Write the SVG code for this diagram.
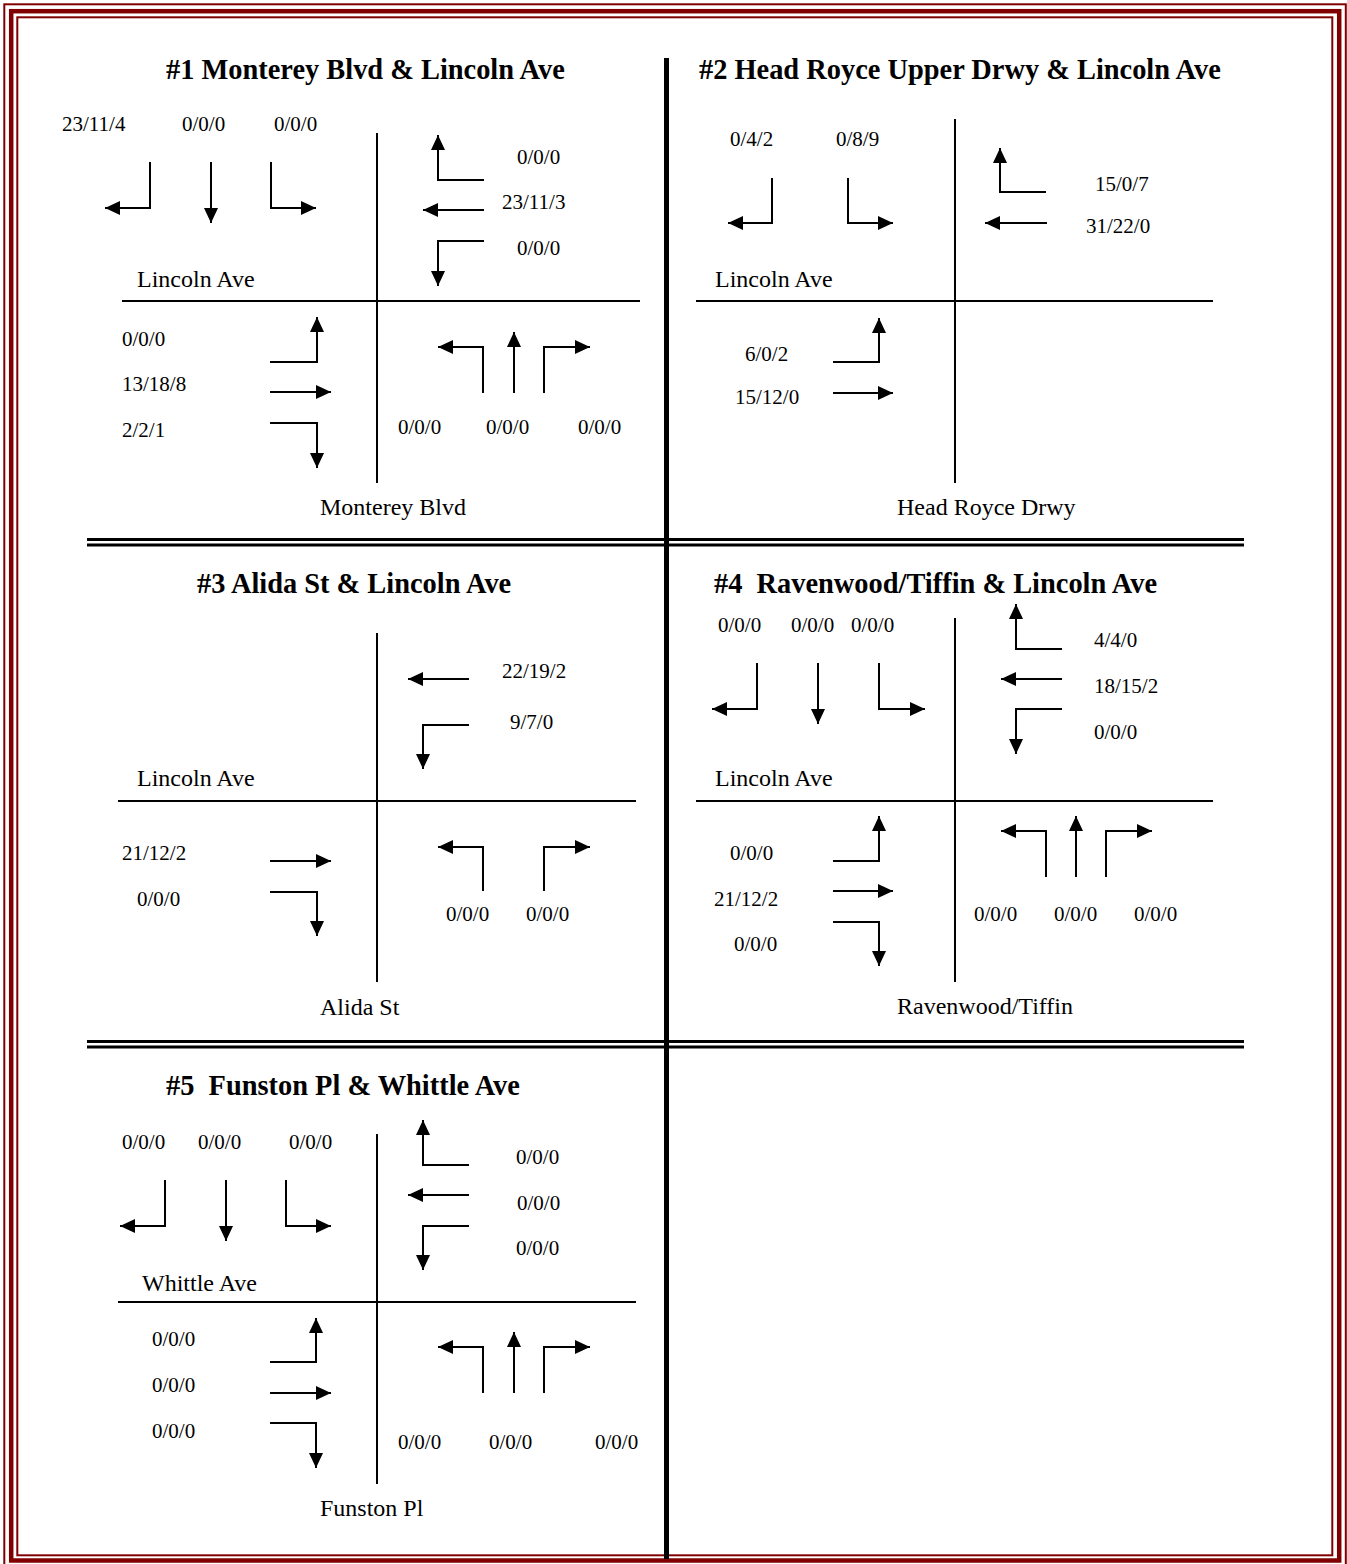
<svg xmlns="http://www.w3.org/2000/svg" width="1347" height="1564" viewBox="0 0 1347 1564">
<style>
.t{font-family:"Liberation Serif","Times New Roman",serif;font-size:28.4px;font-weight:bold;fill:#000}
.s{font-family:"Liberation Serif","Times New Roman",serif;font-size:24px;fill:#000}
.n{font-family:"Liberation Serif","Times New Roman",serif;font-size:21px;fill:#000}
.a{fill:none;stroke:#000;stroke-width:2;marker-end:url(#ah)}
.x{fill:none;stroke:#000;stroke-width:2}
.b{fill:none;stroke:#800000}
</style>
<defs>
<marker id="ah" markerUnits="userSpaceOnUse" markerWidth="16" markerHeight="14" refX="15" refY="7" orient="auto">
<path d="M0,0 L15,7 L0,14 z" fill="#000"/>
</marker>
</defs>
<rect width="1347" height="1564" fill="#fff"/>
<g id="frame">
<rect class="b" x="4.3" y="4.3" width="1341.5" height="1570" stroke-width="2"/>
<rect class="b" x="11.2" y="11.2" width="1328" height="1549.3" stroke-width="4.5"/>
<rect class="b" x="17.3" y="17.3" width="1315" height="1538" stroke-width="2"/>
</g>
<g id="dividers">
<line x1="666.5" y1="58" x2="666.5" y2="1559" stroke="#000" stroke-width="5"/>
<line x1="87" y1="539.5" x2="1244" y2="539.5" stroke="#000" stroke-width="3"/>
<line x1="87" y1="545" x2="1244" y2="545" stroke="#000" stroke-width="3"/>
<line x1="87" y1="1041.5" x2="1244" y2="1041.5" stroke="#000" stroke-width="3"/>
<line x1="87" y1="1047" x2="1244" y2="1047" stroke="#000" stroke-width="3"/>
</g>
<g id="int1">
<text class="t" x="166" y="79">#1 Monterey Blvd &amp; Lincoln Ave</text>
<text class="n" x="62" y="131">23/11/4</text>
<text class="n" x="182" y="131">0/0/0</text>
<text class="n" x="274" y="131">0/0/0</text>
<text class="n" x="517" y="164">0/0/0</text>
<text class="n" x="502" y="209">23/11/3</text>
<text class="n" x="517" y="255">0/0/0</text>
<text class="s" x="137" y="287">Lincoln Ave</text>
<text class="n" x="122" y="346">0/0/0</text>
<text class="n" x="122" y="391">13/18/8</text>
<text class="n" x="122" y="437">2/2/1</text>
<text class="n" x="398" y="434">0/0/0</text>
<text class="n" x="486" y="434">0/0/0</text>
<text class="n" x="578" y="434">0/0/0</text>
<text class="s" x="320" y="515">Monterey Blvd</text>
</g>
<g id="int2">
<text class="t" x="699" y="79">#2 Head Royce Upper Drwy &amp; Lincoln Ave</text>
<text class="n" x="730" y="146">0/4/2</text>
<text class="n" x="836" y="146">0/8/9</text>
<text class="n" x="1095" y="191">15/0/7</text>
<text class="n" x="1086" y="233">31/22/0</text>
<text class="s" x="715" y="287">Lincoln Ave</text>
<text class="n" x="745" y="361">6/0/2</text>
<text class="n" x="735" y="404">15/12/0</text>
<text class="s" x="897" y="515">Head Royce Drwy</text>
</g>
<g id="int3">
<text class="t" x="197" y="593">#3 Alida St &amp; Lincoln Ave</text>
<text class="n" x="502" y="678">22/19/2</text>
<text class="n" x="510" y="729">9/7/0</text>
<text class="s" x="137" y="786">Lincoln Ave</text>
<text class="n" x="122" y="860">21/12/2</text>
<text class="n" x="137" y="906">0/0/0</text>
<text class="n" x="446" y="921">0/0/0</text>
<text class="n" x="526" y="921">0/0/0</text>
<text class="s" x="320" y="1015">Alida St</text>
</g>
<g id="int4">
<text class="t" x="714" y="593" xml:space="preserve">#4  Ravenwood/Tiffin &amp; Lincoln Ave</text>
<text class="n" x="718" y="632">0/0/0</text>
<text class="n" x="791" y="632">0/0/0</text>
<text class="n" x="851" y="632">0/0/0</text>
<text class="n" x="1094" y="647">4/4/0</text>
<text class="n" x="1094" y="693">18/15/2</text>
<text class="n" x="1094" y="739">0/0/0</text>
<text class="s" x="715" y="786">Lincoln Ave</text>
<text class="n" x="730" y="860">0/0/0</text>
<text class="n" x="714" y="906">21/12/2</text>
<text class="n" x="734" y="951">0/0/0</text>
<text class="n" x="974" y="921">0/0/0</text>
<text class="n" x="1054" y="921">0/0/0</text>
<text class="n" x="1134" y="921">0/0/0</text>
<text class="s" x="897" y="1014">Ravenwood/Tiffin</text>
</g>
<g id="int5">
<text class="t" x="166" y="1095" xml:space="preserve">#5  Funston Pl &amp; Whittle Ave</text>
<text class="n" x="122" y="1149">0/0/0</text>
<text class="n" x="198" y="1149">0/0/0</text>
<text class="n" x="289" y="1149">0/0/0</text>
<text class="n" x="516" y="1164">0/0/0</text>
<text class="n" x="517" y="1210">0/0/0</text>
<text class="n" x="516" y="1255">0/0/0</text>
<text class="s" x="142" y="1291">Whittle Ave</text>
<text class="n" x="152" y="1346">0/0/0</text>
<text class="n" x="152" y="1392">0/0/0</text>
<text class="n" x="152" y="1438">0/0/0</text>
<text class="n" x="398" y="1449">0/0/0</text>
<text class="n" x="489" y="1449">0/0/0</text>
<text class="n" x="595" y="1449">0/0/0</text>
<text class="s" x="320" y="1516">Funston Pl</text>
</g>
<g id="connectors">
<path class="x" d="M377,133 V483 M122,301 H640"/>
<path class="a" d="M150,162 V208 H105"/>
<path class="a" d="M211,162 V223"/>
<path class="a" d="M271,162 V208 H316"/>
<path class="a" d="M484,180 H438 V135"/>
<path class="a" d="M484,210 H423"/>
<path class="a" d="M484,241 H438 V286"/>
<path class="a" d="M270,362 H317 V317"/>
<path class="a" d="M270,392 H331"/>
<path class="a" d="M270,423 H317 V468"/>
<path class="a" d="M483,393 V347 H438"/>
<path class="a" d="M514,393 V332"/>
<path class="a" d="M544,393 V347 H590"/>

<path class="x" d="M955,119 V483 M696,301 H1213"/>
<path class="a" d="M772,178 V223 H728"/>
<path class="a" d="M848,178 V223 H893"/>
<path class="a" d="M1046,192 H1000 V148"/>
<path class="a" d="M1047,223 H985"/>
<path class="a" d="M833,362 H879 V318"/>
<path class="a" d="M833,393 H893"/>

<path class="x" d="M377,633 V982 M118,801 H636"/>
<path class="a" d="M469,679 H408"/>
<path class="a" d="M469,725 H423 V769"/>
<path class="a" d="M270,861 H331"/>
<path class="a" d="M270,892 H317 V936"/>
<path class="a" d="M483,891 V847 H438"/>
<path class="a" d="M544,891 V847 H590"/>

<path class="x" d="M955,618 V982 M696,801 H1213"/>
<path class="a" d="M757,663 V709 H712"/>
<path class="a" d="M818,663 V724"/>
<path class="a" d="M879,663 V709 H925"/>
<path class="a" d="M1062,649 H1016 V604"/>
<path class="a" d="M1062,679 H1001"/>
<path class="a" d="M1062,709 H1016 V754"/>
<path class="a" d="M833,861 H879 V816"/>
<path class="a" d="M833,891 H893"/>
<path class="a" d="M833,922 H879 V966"/>
<path class="a" d="M1046,877 V831 H1001"/>
<path class="a" d="M1076,877 V816"/>
<path class="a" d="M1106,877 V831 H1152"/>

<path class="x" d="M377,1134 V1484 M118,1302 H636"/>
<path class="a" d="M165,1180 V1226 H120"/>
<path class="a" d="M226,1180 V1241"/>
<path class="a" d="M286,1180 V1226 H331"/>
<path class="a" d="M469,1165 H423 V1120"/>
<path class="a" d="M469,1195 H408"/>
<path class="a" d="M469,1226 H423 V1270"/>
<path class="a" d="M270,1362 H316 V1318"/>
<path class="a" d="M270,1393 H331"/>
<path class="a" d="M270,1423 H316 V1468"/>
<path class="a" d="M483,1393 V1347 H438"/>
<path class="a" d="M514,1393 V1332"/>
<path class="a" d="M544,1393 V1347 H590"/>
</g>
</svg>
